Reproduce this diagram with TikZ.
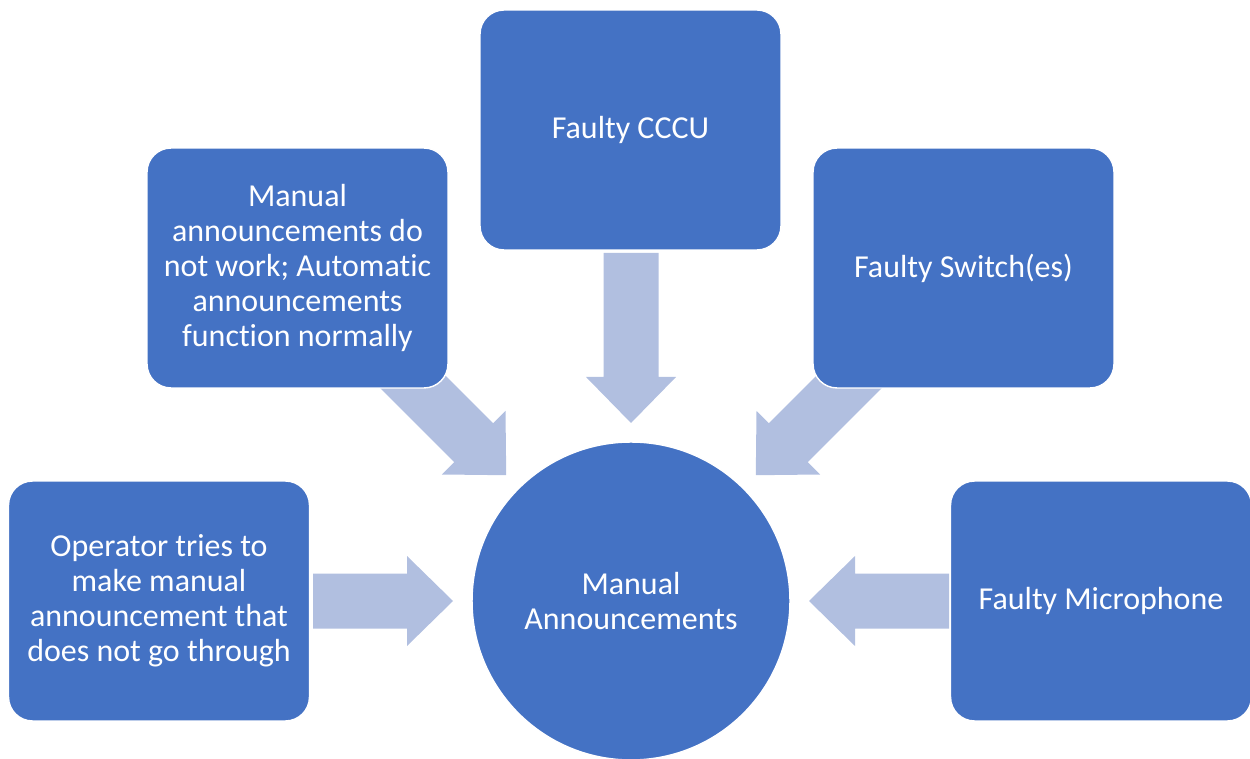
\documentclass[tikz,border=0pt]{standalone}
\usepackage{fontspec}
\setmainfont{Carlito}[Ligatures=NoCommon]
\definecolor{boxblue}{HTML}{4472C4}
\definecolor{arrowblue}{HTML}{B1BFE0}
\begin{document}
\begin{tikzpicture}[x=0.02cm,y=-0.02cm,
  txt/.style={text=white, align=center, font=\fontsize{18.2}{19.85}\selectfont},
  box/.style={txt, rectangle, rounded corners=0.48cm, fill=boxblue, draw=white, line width=0.8pt, minimum width=6.02cm, minimum height=4.8cm, inner sep=0pt},
  hub/.style={txt, circle, fill=boxblue, draw=white, line width=0.8pt, minimum size=6.36cm, inner sep=0pt},
  pics/barrow/.style={code={\fill[arrowblue] (0,-27.5) -- ({#1-46},-27.5) -- ({#1-46},-45) -- (#1,0) -- ({#1-46},45) -- ({#1-46},27.5) -- (0,27.5) -- cycle;}}]
\useasboundingbox (0,0) rectangle (1250,759);
% block arrows (drawn beneath the boxes)
\pic[rotate=0] at (313,601) {barrow=140};
\pic[rotate=180] at (949,601) {barrow=140};
\pic[rotate=-90] at (631,253) {barrow=170};
\pic[rotate=-45] at (386,355) {barrow=170};
\pic[rotate=-135] at (876,355) {barrow=170};
% nodes
\node[box] (manualfail) at (297.5,268) {Manual\\announcements do\\not work; Automatic\\announcements\\function normally};
\node[box] (cccu) at (630.5,130) {Faulty CCCU};
\node[box] (switch) at (963.5,268) {Faulty Switch(es)};
\node[box] (operator) at (159,601) {Operator tries to\\make manual\\announcement that\\does not go through};
\node[box] (mic) at (1101,601) {Faulty Microphone};
\node[hub] (hub) at (631,601) {Manual\\Announcements};
\end{tikzpicture}
\end{document}
